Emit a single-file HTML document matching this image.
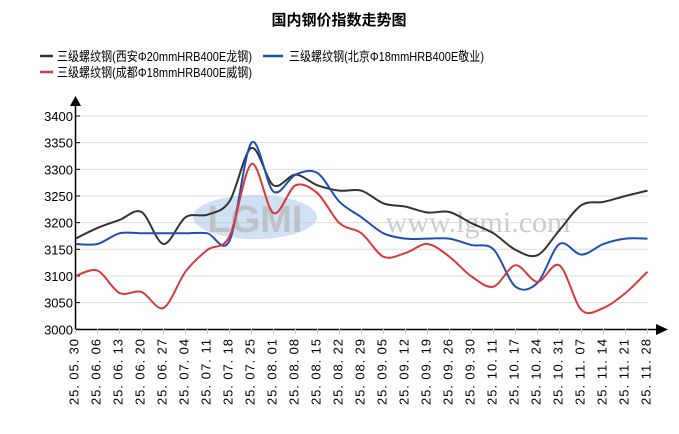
<!DOCTYPE html><html><head><meta charset="utf-8"><style>
body{margin:0;background:#fff;width:679px;height:429px;overflow:hidden}
text{font-family:"Liberation Sans","Noto Sans CJK SC",sans-serif}
</style></head><body>
<svg id="s" width="679" height="429" xmlns="http://www.w3.org/2000/svg">
<text x="339" y="25" text-anchor="middle" font-size="15" font-weight="bold" fill="#000">国内钢价指数走势图</text>
<line x1="40" y1="56" x2="53" y2="56" stroke="#333" stroke-width="2.5"/>
<text x="57" y="61" font-size="13" fill="#000" textLength="195" lengthAdjust="spacingAndGlyphs">三级螺纹钢(西安Φ20mmHRB400E龙钢)</text>
<line x1="263" y1="56" x2="283" y2="56" stroke="#1f4fb5" stroke-width="2.5"/>
<text x="289" y="61" font-size="13" fill="#000" textLength="195" lengthAdjust="spacingAndGlyphs">三级螺纹钢(北京Φ18mmHRB400E敬业)</text>
<line x1="40" y1="72" x2="53" y2="72" stroke="#d63a3a" stroke-width="2.5"/>
<text x="57" y="77" font-size="13" fill="#000" textLength="195" lengthAdjust="spacingAndGlyphs">三级螺纹钢(成都Φ18mmHRB400E威钢)</text>
<g id="grid"></g>
<ellipse cx="255" cy="217" rx="62" ry="22" fill="#a9c8ec" opacity="0.55"/>
<text x="255" y="232" text-anchor="middle" font-size="38" font-weight="bold" fill="#bbb" opacity="0.8">LGMI</text>
<text x="478" y="232" text-anchor="middle" font-size="30" fill="#ccc" style="font-family:'Liberation Serif',serif">www.lgmi.com</text>
<g id="lines"></g>
<line x1="75.5" y1="104" x2="75.5" y2="330" stroke="#000" stroke-width="1.5"/>
<polygon points="70,106 81,106 75.5,96" fill="#000"/>
<line x1="75" y1="329.5" x2="660" y2="329.5" stroke="#000" stroke-width="1.5"/>
<polygon points="656,324 656,335 668,329.5" fill="#000"/>
<g id="lab"></g>
</svg>
<script>
var ns="http://www.w3.org/2000/svg";
function el(n,a,p,t){var e=document.createElementNS(ns,n);for(var k in a)e.setAttribute(k,a[k]);if(t)e.textContent=t;document.getElementById(p).appendChild(e);return e}
function Y(v){return 116+(3400-v)*0.5332}
for(var v=3000;v<=3400;v+=50){var y=Y(v);if(v>3000)el("line",{x1:76,y1:y,x2:648,y2:y,stroke:"#ddd","stroke-width":1},"grid");
el("line",{x1:75,y1:y,x2:80,y2:y,stroke:"#000"},"grid");
el("text",{x:73,y:y+5,"text-anchor":"end","font-size":13,fill:"#000"},"grid",""+v)}
var labs=["25.05.30","25.06.06","25.06.13","25.06.20","25.06.27","25.07.04","25.07.11","25.07.18","25.07.25","25.08.01","25.08.08","25.08.15","25.08.22","25.08.29","25.09.05","25.09.12","25.09.19","25.09.26","25.09.30","25.10.11","25.10.17","25.10.24","25.10.31","25.11.07","25.11.14","25.11.21","25.11.28"];
var X=function(i){return 75.5+22*i};
for(var i=0;i<27;i++){el("line",{x1:X(i),y1:329,x2:X(i),y2:334,stroke:"#ccc"},"lab");
el("text",{x:0,y:0,"font-size":13,fill:"#000","text-anchor":"end",textLength:66,lengthAdjust:"spacing",transform:"translate("+(X(i)+3)+",339) rotate(-90)"},"lab",labs[i].replace(/\./g,". "))}
var B=[3170,3190,3205,3220,3160,3210,3215,3240,3340,3270,3290,3270,3260,3260,3236,3230,3219,3220,3199,3180,3149,3139,3186,3233,3239,3250,3260];
var U=[3160,3160,3180,3180,3180,3180,3180,3166,3350,3258,3290,3293,3239,3210,3180,3170,3170,3170,3158,3150,3080,3087,3160,3140,3160,3170,3170];
var R=[3100,3110,3068,3070,3040,3108,3149,3174,3310,3218,3270,3255,3199,3180,3136,3143,3160,3136,3099,3080,3120,3089,3120,3036,3040,3068,3108];
function path(d){var p=d.map(function(v,i){return[X(i),Y(v)]});var s="M"+p[0][0]+","+p[0][1];var t=0.16;
for(var i=0;i<p.length-1;i++){var a=p[i-1]||p[i],b=p[i],c=p[i+1],e=p[i+2]||c;
s+=" C"+(b[0]+(c[0]-a[0])*t)+","+(b[1]+(c[1]-a[1])*t)+" "+(c[0]-(e[0]-b[0])*t)+","+(c[1]-(e[1]-b[1])*t)+" "+c[0]+","+c[1]}return s}
el("path",{d:path(B),fill:"none",stroke:"#333","stroke-width":2},"lines");
el("path",{d:path(U),fill:"none",stroke:"#1f4fb5","stroke-width":2},"lines");
el("path",{d:path(R),fill:"none",stroke:"#d63a3a","stroke-width":2},"lines");
</script>
</body></html>
